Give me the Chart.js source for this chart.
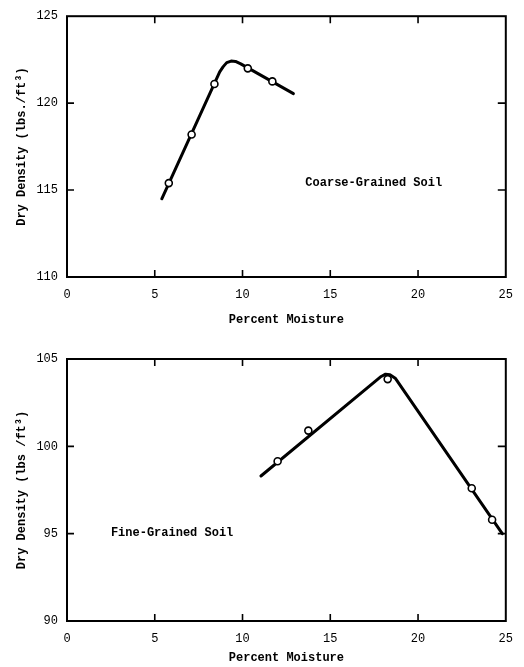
<!DOCTYPE html>
<html>
<head>
<meta charset="utf-8">
<script src="https://cdn.jsdelivr.net/npm/chart.js@4/dist/chart.umd.min.js"></script>
<style>
    body { margin: 0; background: #fff; }
    .wrap { position: absolute; left: 0; width: 524px; }
    #top { top: 0; height: 335px; }
    #bottom { top: 335px; height: 332px; }
</style>
</head>
<body>
<div class="wrap" id="top"><canvas id="coarseChart" width="524" height="335"></canvas></div>
<div class="wrap" id="bottom"><canvas id="fineChart" width="524" height="332"></canvas></div>
<script>
// Axis ticks
const moistureTicks = [0, 5, 10, 15, 20, 25];
const coarseDensityTicks = [110, 115, 120, 125];
const fineDensityTicks = [90, 95, 100, 105];

// Coarse-grained soil: measured points and fitted curve
const coarseMoisture = [5.8, 7.1, 8.4, 10.3, 11.7];
const coarseDensity = [115.4, 118.2, 121.1, 122.0, 121.25];
const coarseCurveMoisture = [5.4, 8.7, 8.9, 9.1, 9.35, 9.6, 9.9, 12.9];
const coarseCurveDensity = [114.5, 121.8, 122.1, 122.33, 122.42, 122.4, 122.26, 120.55];

// Fine-grained soil: measured points and fitted curve
const fineMoisture = [12.0, 13.75, 18.27, 23.06, 24.22];
const fineDensity = [99.15, 100.9, 103.85, 97.6, 95.8];
const fineCurveMoisture = [11.05, 17.9, 18.15, 18.4, 18.7, 24.8];
const fineCurveDensity = [98.3, 104.0, 104.13, 104.1, 103.9, 95.0];

const FONT = "'Liberation Mono', 'DejaVu Sans Mono', monospace";

function toXY(xs, ys) {
    return xs.map((x, i) => ({ x: x, y: ys[i] }));
}

// Frame around the plot with inward ticks on all four sides
const framePlugin = {
    id: 'frame',
    afterDraw(chart) {
        const ctx = chart.ctx;
        const a = chart.chartArea;
        const xs = chart.scales.x, ys = chart.scales.y;
        ctx.save();
        ctx.strokeStyle = '#000';
        ctx.lineWidth = 2;
        ctx.strokeRect(a.left, a.top, a.right - a.left, a.bottom - a.top);
        ctx.lineWidth = 1.6;
        ctx.beginPath();
        xs.ticks.forEach(t => {
            const px = xs.getPixelForValue(t.value);
            if (px <= a.left + 1 || px >= a.right - 1) return;
            ctx.moveTo(px, a.bottom); ctx.lineTo(px, a.bottom - 7);
            ctx.moveTo(px, a.top); ctx.lineTo(px, a.top + 7);
        });
        ys.ticks.forEach(t => {
            const py = ys.getPixelForValue(t.value);
            if (py <= a.top + 1 || py >= a.bottom - 1) return;
            ctx.moveTo(a.left, py); ctx.lineTo(a.left + 7, py);
            ctx.moveTo(a.right, py); ctx.lineTo(a.right - 8, py);
        });
        ctx.stroke();

        const note = chart.options.plugins.frame;
        if (note && note.text) {
            ctx.fillStyle = '#000';
            ctx.font = 'bold 12px ' + FONT;
            ctx.textAlign = 'left';
            ctx.textBaseline = 'middle';
            ctx.fillText(note.text, xs.getPixelForValue(note.x), ys.getPixelForValue(note.y));
        }
        ctx.restore();
    }
};

function makeChart(id, cfg) {
    return new Chart(document.getElementById(id), {
        type: 'scatter',
        data: {
            datasets: [{
                data: toXY(cfg.curveX, cfg.curveY),
                showLine: true,
                borderColor: '#000',
                borderWidth: 3,
                borderJoinStyle: 'round',
                borderCapStyle: 'round',
                pointRadius: 0,
                tension: 0,
                order: 2
            }, {
                data: toXY(cfg.pointX, cfg.pointY),
                pointRadius: 3.5,
                pointBorderWidth: 1.6,
                pointBorderColor: '#000',
                pointBackgroundColor: '#fff',
                order: 1
            }]
        },
        options: {
            responsive: false,
            animation: false,
            layout: { padding: { top: cfg.padTop, right: cfg.padRight, left: 0, bottom: 0 } },
            plugins: {
                legend: { display: false },
                tooltip: { enabled: false },
                frame: cfg.note
            },
            scales: {
                x: {
                    type: 'linear',
                    min: 0, max: 25,
                    afterBuildTicks: s => { s.ticks = moistureTicks.map(v => ({ value: v })); },
                    afterFit: s => { s.height = cfg.xHeight; },
                    grid: { display: false, drawTicks: false },
                    border: { display: false },
                    ticks: {
                        color: '#000', padding: 11, maxRotation: 0,
                        font: { family: FONT, size: 12 }
                    },
                    title: {
                        display: true, text: 'Percent Moisture', color: '#000',
                        padding: { top: 0, bottom: cfg.xTitlePad },
                        font: { family: FONT, size: 12, weight: 'bold' }
                    }
                },
                y: {
                    type: 'linear',
                    min: cfg.yTicks[0], max: cfg.yTicks[cfg.yTicks.length - 1],
                    afterBuildTicks: s => { s.ticks = cfg.yTicks.map(v => ({ value: v })); },
                    afterFit: s => { s.width = 67; },
                    grid: { display: false, drawTicks: false },
                    border: { display: false },
                    ticks: {
                        color: '#000', padding: 9,
                        font: { family: FONT, size: 12 }
                    },
                    title: {
                        display: true, text: cfg.yTitle, color: '#000',
                        padding: { top: 15, bottom: 0 },
                        font: { family: FONT, size: 12, weight: 'bold' }
                    }
                }
            }
        },
        plugins: [framePlugin]
    });
}

makeChart('coarseChart', {
    curveX: coarseCurveMoisture, curveY: coarseCurveDensity,
    pointX: coarseMoisture, pointY: coarseDensity,
    yTicks: coarseDensityTicks,
    yTitle: 'Dry Density (lbs./ft³)',
    padTop: 15, padRight: 17, xHeight: 58, xTitlePad: 8,
    note: { text: 'Coarse-Grained Soil', x: 13.58, y: 115.4 }
});

makeChart('fineChart', {
    curveX: fineCurveMoisture, curveY: fineCurveDensity,
    pointX: fineMoisture, pointY: fineDensity,
    yTicks: fineDensityTicks,
    yTitle: 'Dry Density (lbs /ft³)',
    padTop: 24, padRight: 15, xHeight: 46, xTitlePad: 2,
    note: { text: 'Fine-Grained Soil', x: 2.5, y: 95.05 }
});
</script>
</body>
</html>
